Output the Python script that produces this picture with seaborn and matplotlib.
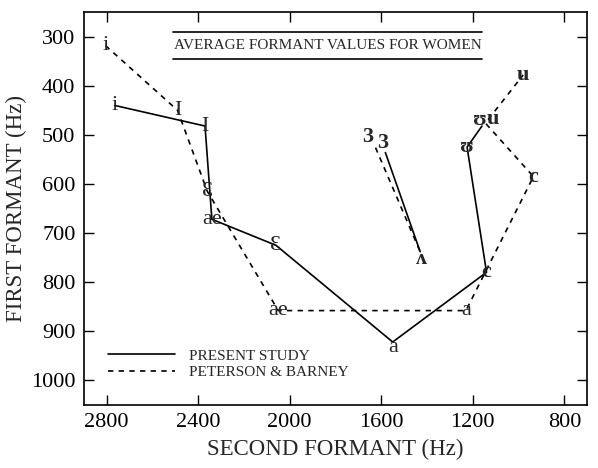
import pandas as pd
import matplotlib
matplotlib.use("Agg")
import matplotlib.pyplot as plt
import seaborn as sns
from matplotlib.lines import Line2D

# Present study (solid line), F2 / F1 in Hz
vowels_ps = ["i", "I", "ae", "Ɛ", "a", "c", "ʊ", "u"]
f2_ps = [2765, 2370, 2340, 2060, 1550, 1140, 1225, 1160]
f1_ps = [440, 482, 672, 725, 922, 780, 525, 482]

# Peterson & Barney (dashed line)
vowels_pb = ["i", "I", "Ɛ", "ae", "a", "c", "ʊ", "u"]
f2_pb = [2805, 2490, 2360, 2050, 1230, 935, 1145, 980]
f1_pb = [318, 450, 615, 858, 858, 585, 476, 378]

# the separate 3 -> ʌ segment
vowels_mid = ["3", "ʌ"]
f2_mid_ps = [1582, 1430]
f1_mid_ps = [536, 738]
f2_mid_pb = [1625, 1430]
f1_mid_pb = [526, 738]

PS = "PRESENT STUDY"
PB = "PETERSON & BARNEY"

rows = []
for grp, study, vw, f2, f1 in [
    ("ps", PS, vowels_ps, f2_ps, f1_ps),
    ("pb", PB, vowels_pb, f2_pb, f1_pb),
    ("ps_mid", PS, vowels_mid, f2_mid_ps, f1_mid_ps),
    ("pb_mid", PB, vowels_mid, f2_mid_pb, f1_mid_pb),
]:
    for v, x, y in zip(vw, f2, f1):
        rows.append({"group": grp, "study": study, "vowel": v, "f2": x, "f1": y})
df = pd.DataFrame(rows)

# label nudges in points (where the letter sits off the vertex)
nudge = {
    ("ps", "u"): (8, 5),
    ("pb", "ʊ"): (-4, 2),
    ("ps", "a"): (0, -4),
    ("ps_mid", "3"): (-2, 7),
    ("pb_mid", "3"): (-6, 8),
    ("ps_mid", "ʌ"): (1, -5),
    ("pb_mid", "ʌ"): None,
}

sns.set_style("ticks")
serif = ["Liberation Serif", "DejaVu Serif"]
plt.rcParams["font.family"] = serif

fig, ax = plt.subplots(figsize=(5.98, 4.68), dpi=100)
fig.subplots_adjust(left=0.140, right=0.982, top=0.974, bottom=0.135)

sns.lineplot(data=df, x="f2", y="f1", style="study", units="group",
             estimator=None, sort=False, color="black", linewidth=1.2,
             dashes={PS: "", PB: (3.2, 3.2)}, legend=False, ax=ax)

for _, r in df.iterrows():
    off = nudge.get((r["group"], r["vowel"]), (0, 0))
    if off is None:
        continue
    bold = r["vowel"] in ("ʌ", "u", "c", "3", "ʊ")
    ax.annotate(r["vowel"], (r["f2"], r["f1"]), xytext=off,
                textcoords="offset points", ha="center", va="center",
                fontsize=16, fontweight="bold" if bold else "normal")

ax.set_xlim(2900, 700)
ax.set_ylim(1050, 250)
ax.set_xticks([2800, 2400, 2000, 1600, 1200, 800])
ax.set_yticks([300, 400, 500, 600, 700, 800, 900, 1000])
ax.tick_params(direction="in", top=True, right=True, length=7, width=1,
               labelsize=16, pad=6, colors="black")
for s in ax.spines.values():
    s.set_linewidth(1.2)
    s.set_color("black")

ax.set_xlabel("SECOND FORMANT (Hz)", fontsize=16.5, labelpad=5)
ax.set_ylabel("FIRST FORMANT (Hz)", fontsize=16.5, labelpad=3)

# boxed title: rule above and below
ax.plot([0.177, 0.791], [0.949, 0.949], transform=ax.transAxes, color="black", lw=1.2)
ax.plot([0.177, 0.791], [0.880, 0.880], transform=ax.transAxes, color="black", lw=1.2)
ax.text(0.484, 0.914, "AVERAGE FORMANT VALUES FOR WOMEN", transform=ax.transAxes,
        ha="center", va="center", fontsize=11)

handles = [Line2D([], [], color="black", lw=1.2, ls="-"),
           Line2D([], [], color="black", lw=1.2, dashes=(3.2, 3.2))]
ax.legend(handles, [PS, PB], loc="lower left", bbox_to_anchor=(0.02, 0.03),
          frameon=False, fontsize=11, handlelength=4.4, handletextpad=0.9,
          labelspacing=0.2)

fig.savefig("out.png", dpi=100)
